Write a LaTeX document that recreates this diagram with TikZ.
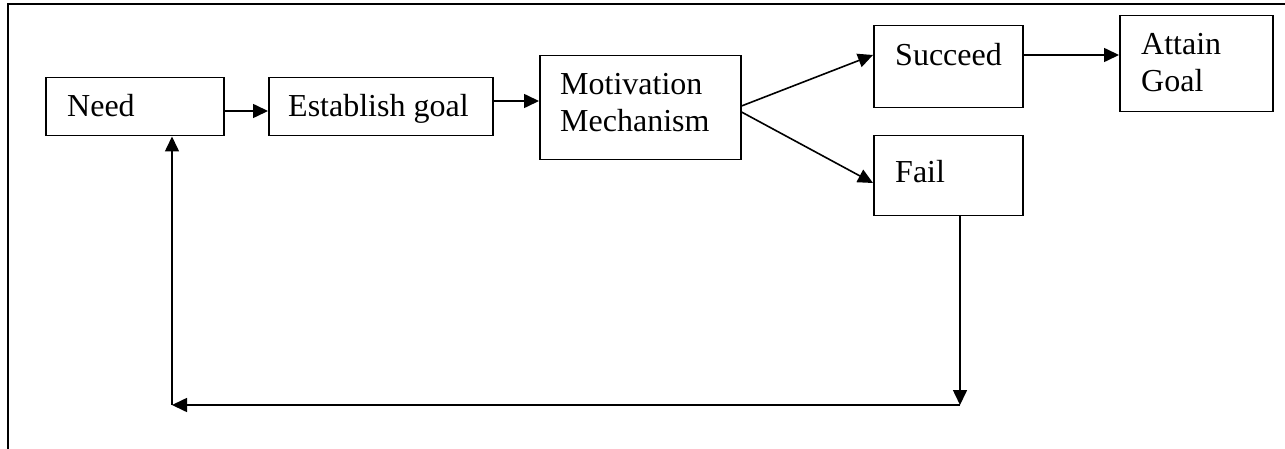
\documentclass[tikz,border=0pt]{standalone}
\usepackage{fontspec}
\setmainfont{Liberation Serif}
\usetikzlibrary{arrows.meta}
\begin{document}
\begin{tikzpicture}[x=1pt,y=-1pt,
  box/.style={draw, line width=1.5pt, inner sep=0pt, anchor=north west},
  lbl/.style={anchor=base west, inner sep=0pt, font=\fontsize{32}{37}\selectfont},
  arr/.style={line width=1.6pt, -{Triangle[length=15pt,width=14pt]}},
  frame/.style={line width=2.4pt}]
\useasboundingbox (0,0) rectangle (1285,449);
% outer frame (top and left only)
\draw[frame] (1285,4) -- (8,4) -- (8,449);
% boxes
\node[box, minimum width=178pt, minimum height=58pt] (need) at (45,77) {};
\node[box, minimum width=224pt, minimum height=58pt] (est) at (268,77) {};
\node[box, minimum width=201pt, minimum height=104pt] (mot) at (539,55) {};
\node[box, minimum width=149pt, minimum height=82pt] (suc) at (873,25) {};
\node[box, minimum width=149pt, minimum height=80pt] (fail) at (873,135) {};
\node[box, minimum width=153pt, minimum height=96pt] (att) at (1119,15) {};
% labels
\node[lbl] (tneed) at (67,117) {Need};
\node[lbl] (test) at (288,117) {Establish goal};
\node[lbl] (tmot1) at (560,95) {Motivation};
\node[lbl] (tmot2) at (560,132) {Mechanism};
\node[lbl] (tsuc) at (895,66) {Succeed};
\node[lbl] (tfail) at (895,183) {Fail};
\node[lbl] (tatt1) at (1141,55) {Attain};
\node[lbl] (tatt2) at (1141,92) {Goal};
% connectors
\coordinate (c1) at (960,405);
\coordinate (c2) at (172,405);
\draw[arr] (need.east |- 0,111) -- (est.west |- 0,111);
\draw[arr] (est.east |- 0,101) -- (mot.west |- 0,101);
\draw[arr] (mot.east |- 0,106) -- (suc.west |- 0,55);
\draw[arr] (mot.east |- 0,112) -- (fail.west |- 0,183);
\draw[arr] (suc.east |- 0,55) -- (att.west |- 0,55);
\draw[arr] (fail.south -| c1) -- (c1);
\draw[arr] (c1) -- (c2);
\draw[arr] (c2) -- (need.south -| c2);
\end{tikzpicture}
\end{document}
